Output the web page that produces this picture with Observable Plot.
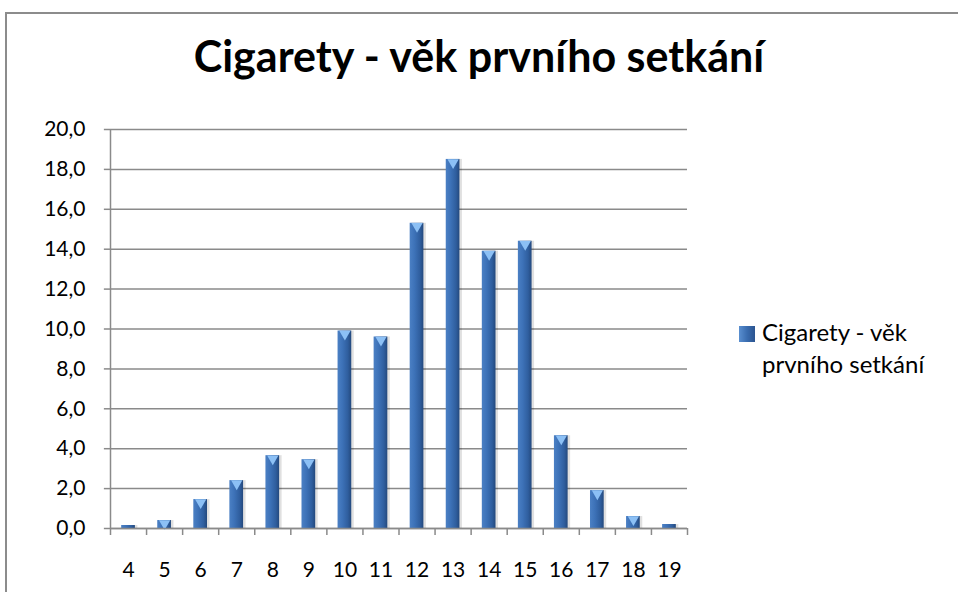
<!DOCTYPE html>
<html>
<head>
<meta charset="utf-8">
<script src="https://cdn.jsdelivr.net/npm/d3@7"></script>
<script src="https://cdn.jsdelivr.net/npm/@observablehq/plot@0.6"></script>
<style>
  html, body { margin: 0; padding: 0; background: #fff; }
  body { width: 958px; height: 592px; position: relative; overflow: hidden; font-family: Lato, "Open Sans", sans-serif; }
  #frame { position: absolute; left: 5px; top: 12px; width: 1000px; height: 700px; border: 2px solid #8c8c8c; box-sizing: border-box; }
  #chart { position: absolute; left: 0; top: 0; }
  #title { position: absolute; left: 0; width: 958px; top: 30px; text-align: center; font-weight: bold; font-size: 43px; line-height: 52px; color: #000; font-family: Lato, sans-serif; }
  #legend { position: absolute; left: 762px; top: 316px; font-size: 24px; line-height: 32px; color: #000; white-space: nowrap; }
  #legend .sw { position: absolute; left: -23px; top: 10px; width: 16px; height: 16px; background: linear-gradient(90deg,#5a8fd0,#3a6db0,#2b5490); }
</style>
</head>
<body>
<div id="frame"></div>
<div id="chart"></div>
<div id="title">Cigarety - věk prvního setkání</div>
<div id="legend"><span class="sw"></span><div>Cigarety - věk</div><div>prvního setkání</div></div>
<script>
const ages = [4,5,6,7,8,9,10,11,12,13,14,15,16,17,18,19];
const values = [0.15,0.4,1.45,2.4,3.65,3.45,9.9,9.6,15.3,18.5,13.9,14.4,4.65,1.9,0.6,0.2];
const yTicks = [0,2,4,6,8,10,12,14,16,18,20];
const seriesName = "Cigarety - věk prvního setkání";

const data = ages.map((a, i) => ({age: a, value: values[i]}));
const boundaries = ages.map(a => a - 0.5).concat([ages[ages.length - 1] + 0.5]);
const half = 0.19;

const chart = Plot.plot({
  width: 958,
  height: 592,
  marginLeft: 110,
  marginRight: 271,
  marginTop: 129,
  marginBottom: 64,
  style: {fontFamily: "Lato, sans-serif", fontSize: "21px", color: "#000", background: "transparent", overflow: "visible"},
  x: {type: "linear", domain: [3.5, 19.5]},
  y: {domain: [0, 20]},
  marks: [
    Plot.gridY(yTicks, {stroke: "#8a8a8a", strokeOpacity: 1, strokeWidth: 1.5}),
    Plot.rectY(data, {x1: d => d.age - half + 1.5 / 36, x2: d => d.age + half + 2.5 / 36, y: "value", fill: "#000", fillOpacity: 0.12}),
    Plot.rectY(data, {x1: d => d.age - half, x2: d => d.age + half, y: "value", fill: "url(#barGrad)"}),
    Plot.dot(data.filter(d => d.value > 0.3), {x: "age", y: "value", symbol: "triangle", rotate: 180, r: 4.2, dy: 3, fill: "#8cc0f5", stroke: null}),
    Plot.ruleY([0], {stroke: "#8a8a8a", strokeWidth: 1.5}),
    Plot.ruleX([3.5], {stroke: "#8a8a8a", strokeWidth: 1.5}),
    Plot.ruleX(boundaries, {y1: 0, y2: -0.35, stroke: "#8a8a8a", strokeWidth: 1.5}),
    Plot.ruleY(yTicks, {x1: 3.5, x2: 3.5 - 0.17, stroke: "#8a8a8a", strokeWidth: 1.5}),
    Plot.axisY(yTicks, {tickSize: 0, tickPadding: 25, tickFormat: d => d.toFixed(1).replace(".", ","), label: null, fontSize: 21, fill: "#000"}),
    Plot.axisX(ages, {tickSize: 0, tickPadding: 34, tickFormat: d => String(d), label: null, fontSize: 21, fill: "#000"})
  ]
});

const ns = "http://www.w3.org/2000/svg";
const defs = document.createElementNS(ns, "defs");
const grad = document.createElementNS(ns, "linearGradient");
grad.setAttribute("id", "barGrad");
grad.setAttribute("x1", "0"); grad.setAttribute("x2", "1");
grad.setAttribute("y1", "0"); grad.setAttribute("y2", "0");
[["0%", "#4b80c4"], ["35%", "#3d72b8"], ["75%", "#2f5e9e"], ["100%", "#24497d"]].forEach(([o, c]) => {
  const s = document.createElementNS(ns, "stop");
  s.setAttribute("offset", o); s.setAttribute("stop-color", c);
  grad.appendChild(s);
});
defs.appendChild(grad);
chart.insertBefore(defs, chart.firstChild);
chart.setAttribute("aria-label", seriesName);
document.getElementById("chart").appendChild(chart);
</script>
</body>
</html>
